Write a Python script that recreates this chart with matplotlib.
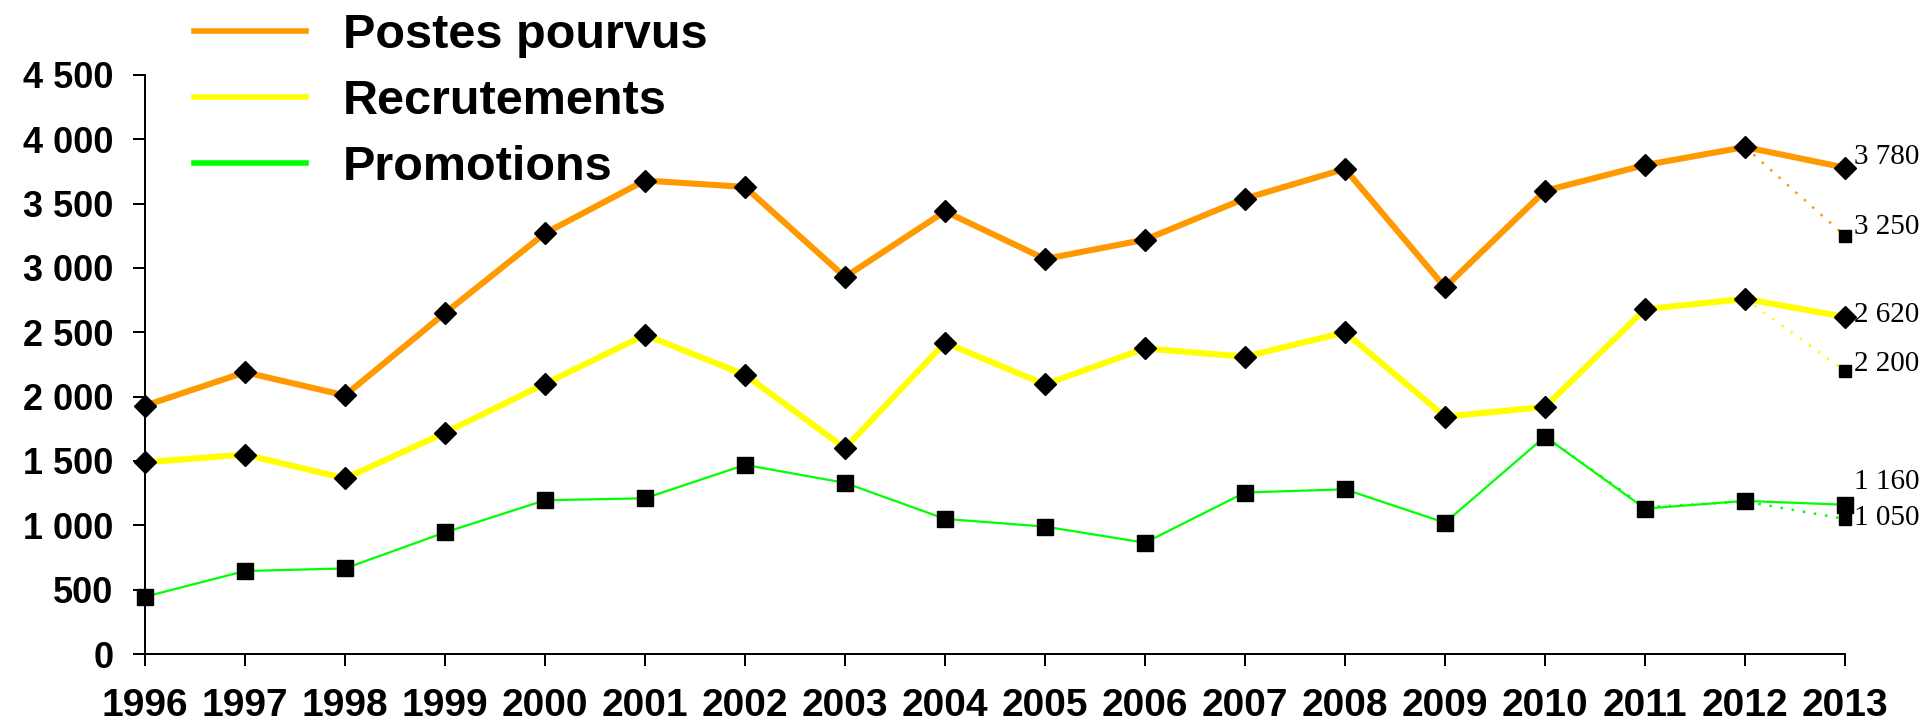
import matplotlib.pyplot as plt
import matplotlib.ticker as mticker
from matplotlib.lines import Line2D
from matplotlib.font_manager import FontProperties

# === Data ===
years = list(range(1996, 2014))
series_names = ["Postes pourvus", "Recrutements", "Promotions"]

postes = [1930, 2190, 2010, 2650, 3270, 3680, 3630, 2930, 3440,
          3070, 3220, 3540, 3770, 2850, 3600, 3800, 3940, 3780]
recrut = [1490, 1550, 1365, 1720, 2100, 2480, 2170, 1600, 2420,
          2095, 2375, 2310, 2500, 1845, 1920, 2680, 2760, 2620]
promo = [445, 645, 665, 945, 1195, 1210, 1470, 1330, 1050,
         990, 865, 1255, 1280, 1020, 1690, 1130, 1190, 1160]

# projections (dotted)
proj_postes_years = [2012, 2013]
proj_postes = [3940, 3250]
proj_recrut_years = [2012, 2013]
proj_recrut = [2760, 2200]
proj_promo_years = [2010, 2011, 2012, 2013]
proj_promo = [1690, 1140, 1185, 1050]

yticks = list(range(0, 4501, 500))

# === Style ===
colors = ["#FF9900", "#FFFF00", "#00FF00"]
widths = [4.4, 4.4, 1.6]
markers = ["D", "D", "s"]

fig = plt.figure(figsize=(19.19, 7.26), dpi=100)
ax = fig.add_axes([145 / 1919, 1 - 654 / 726, 1700 / 1919, 579 / 726])

# dotted projections
proj = [(proj_postes_years, proj_postes), (proj_recrut_years, proj_recrut),
        (proj_promo_years, proj_promo)]
for (px, py), c in zip(proj, colors):
    ax.plot(px, py, color=c, lw=1.8, ls=(0, (1, 3.5)), zorder=2, clip_on=False)
    ax.plot(px[-1], py[-1], "s", color="black", ms=9, zorder=5, clip_on=False)

# main series
for vals, c, w, m in zip([postes, recrut, promo], colors, widths, markers):
    ax.plot(years, vals, color=c, lw=w, zorder=3, clip_on=False)
    ax.plot(years, vals, m, color="black", ms=11, zorder=4, clip_on=False)

# value labels at the right end (offsets in pixels, neg = up)
lab_font = dict(family="Liberation Serif", size=21)
end_labels = [(postes[-1], -11), (proj_postes[-1], -9), (recrut[-1], -2),
              (proj_recrut[-1], -7), (promo[-1], -23), (proj_promo[-1], -1)]
for v, dy in end_labels:
    ax.annotate(f"{v:,}".replace(",", " "), xy=(years[-1], v),
                xytext=(9 * 0.72, -dy * 0.72), textcoords="offset points",
                ha="left", va="center", annotation_clip=False, **lab_font)

# === Axes ===
ax.set_xlim(1996, 2013)
ax.set_ylim(0, 4500)
ax.set_xticks(years)
ax.set_yticks(yticks)
ax.yaxis.set_major_formatter(
    mticker.FuncFormatter(lambda v, p: f"{int(v):,}".replace(",", " ")))
for s in ["top", "right"]:
    ax.spines[s].set_visible(False)
for s in ["left", "bottom"]:
    ax.spines[s].set_linewidth(1.44)
ax.tick_params(direction="out", length=8.6, width=1.44)
ax.tick_params(axis="y", pad=14)
ax.tick_params(axis="x", pad=16)
for t in ax.get_yticklabels():
    t.set_fontproperties(FontProperties(family="Liberation Sans", weight="bold", size=26))
for t in ax.get_xticklabels():
    t.set_fontproperties(FontProperties(family="Liberation Sans", weight="bold", size=28))

# === Legend ===
handles = [Line2D([], [], color=c, lw=4) for c in colors]
ax.legend(handles, series_names, loc="upper left",
          bbox_to_anchor=(194 / 1919, 1 - 13 / 726), bbox_transform=fig.transFigure,
          frameon=False, borderpad=0, borderaxespad=0, handlelength=2.3,
          handletextpad=0.76, labelspacing=0.43,
          prop=FontProperties(family="Liberation Sans", weight="bold", size=35))

fig.savefig("out.png", dpi=100)
